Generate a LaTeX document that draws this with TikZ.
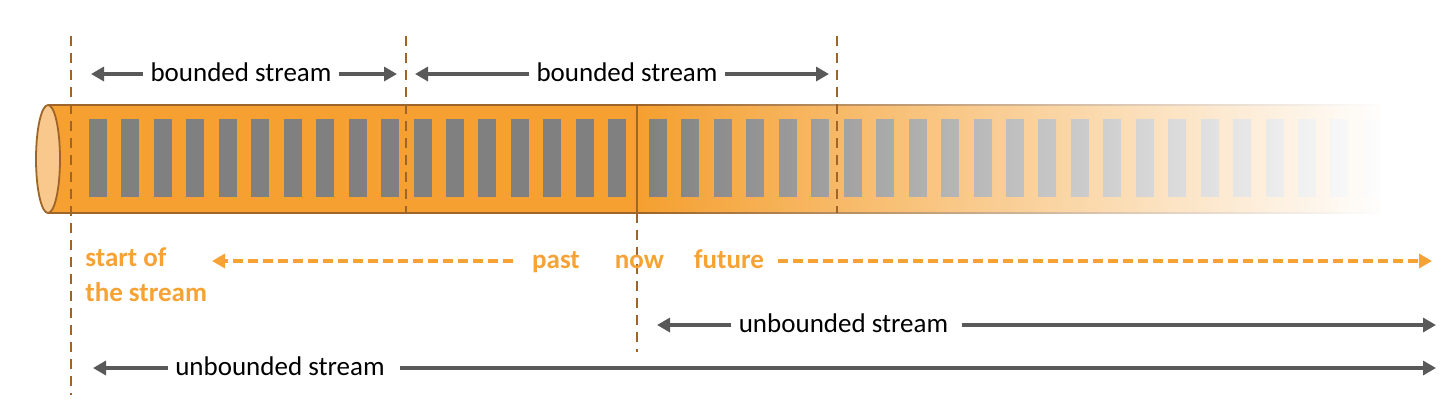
\documentclass[tikz,border=0pt]{standalone}
\usepackage{fontspec}
\setmainfont{Carlito}
\usetikzlibrary{arrows.meta,fadings}

\definecolor{tubeorange}{RGB}{245,160,48}
\definecolor{tubeedge}{RGB}{158,100,40}
\definecolor{capfill}{RGB}{249,200,140}
\definecolor{barfill}{RGB}{128,128,128}
\definecolor{arrowgray}{RGB}{89,89,89}
\definecolor{labelorange}{RGB}{246,162,52}

\tikzfading[name=fade to white, left color=transparent!100, right color=transparent!0]

\tikzset{
  span/.style={draw=arrowgray, line width=2pt, -{Triangle[length=6.5pt,width=7pt]}},
  timeline/.style={draw=labelorange, line width=2pt, dash pattern=on 5pt off 2.5pt, -{Triangle[length=6.5pt,width=7pt]}},
  marker/.style={draw=tubeedge, line width=1pt, dash pattern=on 5pt off 3.5pt},
  spanlabel/.style={font=\fontsize{13.5}{16}\selectfont, text height=0.7em, text depth=0pt, inner xsep=3.5pt, inner ysep=0pt},
  timelabel/.style={font=\fontsize{13.5}{16}\selectfont\bfseries, text=labelorange, text height=0.7em, text depth=0pt, inner xsep=7pt, inner ysep=0pt},
}

\begin{document}
\begin{tikzpicture}[x=0.5pt,y=0.5pt,yscale=-1]
    \useasboundingbox (0,0) rectangle (1456,404);

    %Shape: Tube body
    \fill[tubeorange] (48,105) rectangle (1380,213);
    \draw[tubeedge, line width=0.75pt] (48,105) -- (1380,105) (48,213) -- (1380,213);
    %Shape: Records in the tube
    \foreach \i in {0,...,16}
      \fill[barfill] ({89+32.45*\i},119) rectangle ++(18,78);
    \foreach \i in {0,...,22}
      \fill[barfill] ({649+32.45*\i},119) rectangle ++(18,78);
    %Shape: Tube end
    \draw[tubeedge, fill=capfill, line width=0.9pt] (48,159) ellipse [x radius=12, y radius=54];
    %Straight Lines: now separator
    \draw[tubeedge, line width=0.8pt] (637,105) -- (637,213);
    %Shape: Fade out of the future part
    \fill[white, path fading=fade to white] (637,100) rectangle (1386,218);

    %Dashed markers
    \coordinate (m0t) at (71,36);  \coordinate (m0b) at (71,395);
    \coordinate (m1t) at (406,36); \coordinate (m1b) at (406,213);
    \coordinate (m2t) at (837,36); \coordinate (m2b) at (837,213);
    \coordinate (nowt) at (637,213); \coordinate (nowb) at (637,352);
    \draw[marker] (m0t) -- (m0b);
    \draw[marker] (m1t) -- (m1b);
    \draw[marker] (m2t) -- (m2b);
    \draw[marker] (nowt) -- (nowb);

    % Text Node: bounded streams
    \node[spanlabel] (bnd1) at (241,74) {bounded stream};
    \coordinate (bnd1L) at (91,74);  \coordinate (bnd1R) at (397,74);
    \draw[span] (bnd1.west) -- (bnd1L);
    \draw[span] (bnd1.east) -- (bnd1R);
    \node[spanlabel] (bnd2) at (627,74) {bounded stream};
    \coordinate (bnd2L) at (415,74); \coordinate (bnd2R) at (829,74);
    \draw[span] (bnd2.west) -- (bnd2L);
    \draw[span] (bnd2.east) -- (bnd2R);

    % Text Node: time line
    \node[timelabel, anchor=west] (startA) at (71,259) {start of};
    \node[timelabel, anchor=west] (startB) at (71,294) {the stream};
    \node[timelabel] (past) at (556,261) {past};
    \node[timelabel] (now) at (639.5,261) {now};
    \node[timelabel] (future) at (729,261) {future};
    \coordinate (pastL) at (212,261); \coordinate (futureR) at (1432,261);
    \draw[timeline, shorten <=2.5pt] (past.west) -- (pastL);
    \draw[timeline] (future.east) -- (futureR);

    % Text Node: unbounded streams
    \node[spanlabel] (ubA) at (843.5,325) {unbounded stream};
    \coordinate (ubAL) at (657,325); \coordinate (ubAR) at (1436,325);
    \draw[span] (ubA.west) -- (ubAL);
    \draw[span, shorten <=3pt] (ubA.east) -- (ubAR);
    \node[spanlabel] (ubB) at (280,368) {unbounded stream};
    \coordinate (ubBL) at (93,368); \coordinate (ubBR) at (1436,368);
    \draw[span] (ubB.west) -- (ubBL);
    \draw[span, shorten <=4pt] (ubB.east) -- (ubBR);

\end{tikzpicture}
\end{document}
